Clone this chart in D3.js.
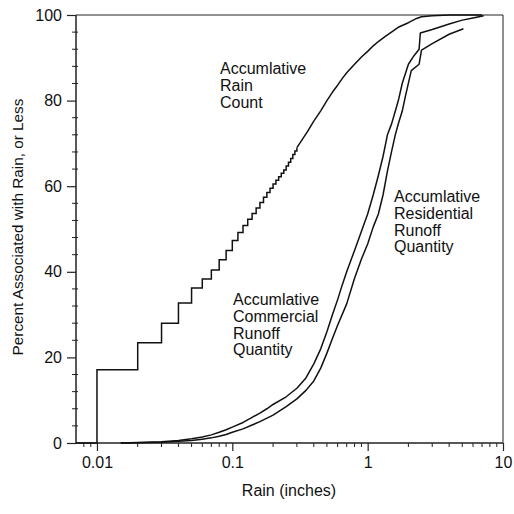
<!DOCTYPE html>
<html>
<head>
<meta charset="utf-8">
<script src="https://cdn.jsdelivr.net/npm/d3@7"></script>
<style>
  body { margin: 0; background: #fff; }
  text { font-family: "Liberation Sans", Arial, sans-serif; fill: #111; }
</style>
</head>
<body>
<div id="chart"></div>
<script>
// rain depth (inches) and cumulative percent
const rainX = [0.007, 0.01, 0.02, 0.03, 0.04, 0.05, 0.06, 0.07, 0.08, 0.09, 0.10,
  0.11, 0.12, 0.13, 0.14, 0.15, 0.16, 0.17, 0.18, 0.19, 0.20, 0.21, 0.22, 0.23, 0.24,
  0.25, 0.26, 0.27, 0.28, 0.29, 0.30, 0.33, 0.36, 0.40, 0.45, 0.50, 0.55, 0.60, 0.65,
  0.70, 0.80, 0.90, 1.00, 1.10, 1.20, 1.35, 1.50, 1.70, 2.00, 2.30, 2.50, 3.00, 4.00, 7.00];
const rainPct = [0, 17.1, 23.4, 28.0, 32.7, 36.2, 38.3, 40.4, 42.8, 45.0, 47.3,
  49.2, 50.8, 52.3, 53.6, 54.9, 56.2, 57.4, 58.5, 59.5, 60.5, 61.4, 62.2, 63.0, 63.8,
  64.7, 65.6, 66.5, 67.4, 68.2, 69.0, 71.0, 72.8, 75.2, 77.6, 80.0, 82.0, 83.6, 85.2,
  86.5, 88.5, 90.2, 91.5, 92.8, 93.8, 95.0, 96.0, 97.2, 98.2, 99.2, 99.6, 99.8, 100, 100];
const rainStepMax = 0.30;

const commX = [0.015, 0.02, 0.03, 0.04, 0.05, 0.06, 0.07, 0.08, 0.09, 0.10, 0.12,
  0.14, 0.16, 0.18, 0.20, 0.25, 0.30, 0.35, 0.40, 0.45, 0.50, 0.55, 0.60, 0.65, 0.70,
  0.80, 0.90, 1.00, 1.10, 1.20, 1.30, 1.40, 1.50, 1.60, 1.70, 1.80, 2.00, 2.20, 2.40,
  2.45, 3.00, 4.00, 5.00, 6.00, 7.20];
const commPct = [0, 0.1, 0.3, 0.6, 1.0, 1.4, 1.9, 2.5, 3.1, 3.7, 4.8,
  6.0, 7.0, 8.0, 9.0, 10.8, 12.8, 15.2, 18.5, 22.0, 26.0, 30.0, 33.5, 37.0, 40.0,
  45.0, 49.5, 53.5, 58.0, 62.5, 67.0, 72.0, 74.5, 77.5, 80.5, 84.0, 88.5, 90.5, 92.0,
  95.8, 96.6, 97.9, 98.8, 99.3, 99.8];

const resX = [0.015, 0.02, 0.03, 0.04, 0.05, 0.06, 0.07, 0.08, 0.09, 0.10, 0.12,
  0.14, 0.16, 0.20, 0.25, 0.30, 0.35, 0.40, 0.45, 0.50, 0.55, 0.60, 0.70, 0.80, 0.90,
  1.00, 1.10, 1.20, 1.30, 1.40, 1.50, 1.60, 1.70, 1.80, 1.90, 2.10, 2.40, 2.50, 3.00,
  4.00, 5.10];
const resPct = [0, 0.05, 0.2, 0.4, 0.6, 0.9, 1.2, 1.6, 2.0, 2.5, 3.3,
  4.2, 5.0, 6.5, 8.5, 10.3, 12.3, 14.5, 17.5, 21.0, 24.5, 27.5, 32.5, 38.5, 43.0,
  46.5, 50.5, 53.5, 58.0, 63.5, 68.0, 72.0, 75.0, 77.5, 81.0, 87.0, 88.5, 91.8, 93.3,
  95.5, 96.8];

const xTicks = [0.01, 0.1, 1, 10];
const xTickLabels = ['0.01', '0.1', '1', '10'];
const yTicks = [0, 20, 40, 60, 80, 100];

const labels = [
  { lines: ['Accumlative', 'Rain', 'Count'], x: 220, y: 74 },
  { lines: ['Accumlative', 'Residential', 'Runoff', 'Quantity'], x: 394, y: 202 },
  { lines: ['Accumlative', 'Commercial', 'Runoff', 'Quantity'], x: 233, y: 305 }
];

const width = 514;
const height = 514;

const svg = d3.select('#chart').append('svg')
  .attr('width', width)
  .attr('height', height);

const x = d3.scaleLog().domain([0.007, 10]).range([76, 503]);
const y = d3.scaleLinear().domain([0, 100]).range([443, 15]);

// frame (top + right)
svg.append('path')
  .attr('d', `M${x(0.007)},${y(100)}H${x(10)}V${y(0)}`)
  .attr('fill', 'none')
  .attr('stroke', '#222')
  .attr('stroke-width', 1);

// y axis
const yMinor = d3.range(0, 101, 4).filter(v => v % 20 !== 0);
const gy = svg.append('g').attr('transform', `translate(${x(0.007)},0)`);
gy.call(d3.axisLeft(y).tickValues(yTicks).tickSize(9).tickPadding(5).tickFormat(d3.format('d')));
gy.selectAll('line.minor')
  .data(yMinor)
  .enter()
  .append('line')
  .attr('class', 'minor')
  .attr('x1', -4)
  .attr('x2', 2)
  .attr('y1', d => y(d))
  .attr('y2', d => y(d))
  .attr('stroke', '#222');

// x axis
const xMinor = [];
[0.001, 0.01, 0.1, 1].forEach(dec => {
  for (let k = 2; k <= 9; k++) {
    const v = +(dec * k).toPrecision(3);
    if (v >= 0.0075 && v < 10) xMinor.push(v);
  }
});
const gx = svg.append('g').attr('transform', `translate(0,${y(0)})`);
gx.call(d3.axisBottom(x).tickValues(xTicks).tickSize(8).tickPadding(6)
  .tickFormat((d, i) => xTickLabels[i]));
gx.selectAll('line.minor')
  .data(xMinor)
  .enter()
  .append('line')
  .attr('class', 'minor')
  .attr('x1', d => x(d))
  .attr('x2', d => x(d))
  .attr('y1', 0)
  .attr('y2', 4)
  .attr('stroke', '#222');

[gx, gy].forEach(g => {
  g.select('.domain').attr('stroke', '#222').attr('stroke-width', 1.5);
  g.selectAll('.tick line').attr('stroke', '#222').attr('stroke-width', 1.2);
  g.selectAll('.tick text')
    .attr('font-size', 16)
    .attr('font-family', '"Liberation Sans", Arial, sans-serif')
    .attr('fill', '#111');
});
gx.select('.domain').attr('d', `M${x(0.007)},0H${x(10)}`);
gy.select('.domain').attr('d', `M0,${y(0)}V${y(100)}`);

// axis titles
svg.append('text')
  .attr('x', 289)
  .attr('y', 496)
  .attr('text-anchor', 'middle')
  .attr('font-size', 16)
  .text('Rain (inches)');

svg.append('text')
  .attr('transform', 'translate(23,227) rotate(-90)')
  .attr('text-anchor', 'middle')
  .attr('font-size', 15.3)
  .text('Percent Associated with Rain, or Less');

// curves
const rainData = d3.zip(rainX, rainPct);

const rainStep = d3.line()
  .x(d => x(d[0]))
  .y(d => y(d[1]))
  .curve(d3.curveStepAfter);

const plainLine = d3.line()
  .x(d => x(d[0]))
  .y(d => y(d[1]));

svg.append('path')
  .datum(rainData.filter(d => d[0] <= rainStepMax))
  .attr('d', rainStep)
  .attr('fill', 'none')
  .attr('stroke', '#111')
  .attr('stroke-width', 1.5);

svg.append('path')
  .datum(rainData.filter(d => d[0] >= rainStepMax))
  .attr('d', plainLine)
  .attr('fill', 'none')
  .attr('stroke', '#111')
  .attr('stroke-width', 1.5)
  .attr('stroke-linejoin', 'round');

[[commX, commPct], [resX, resPct]].forEach(([xs, ps]) => {
  svg.append('path')
    .datum(d3.zip(xs, ps))
    .attr('d', plainLine)
    .attr('fill', 'none')
    .attr('stroke', '#111')
    .attr('stroke-width', 1.5)
    .attr('stroke-linejoin', 'round');
});

// curve labels
labels.forEach(l => {
  const t = svg.append('text')
    .attr('x', l.x)
    .attr('y', l.y)
    .attr('font-size', 16);
  t.selectAll('tspan')
    .data(l.lines)
    .enter()
    .append('tspan')
    .attr('x', l.x)
    .attr('dy', (d, i) => i === 0 ? 0 : 16.8)
    .text(d => d);
});
</script>
</body>
</html>
